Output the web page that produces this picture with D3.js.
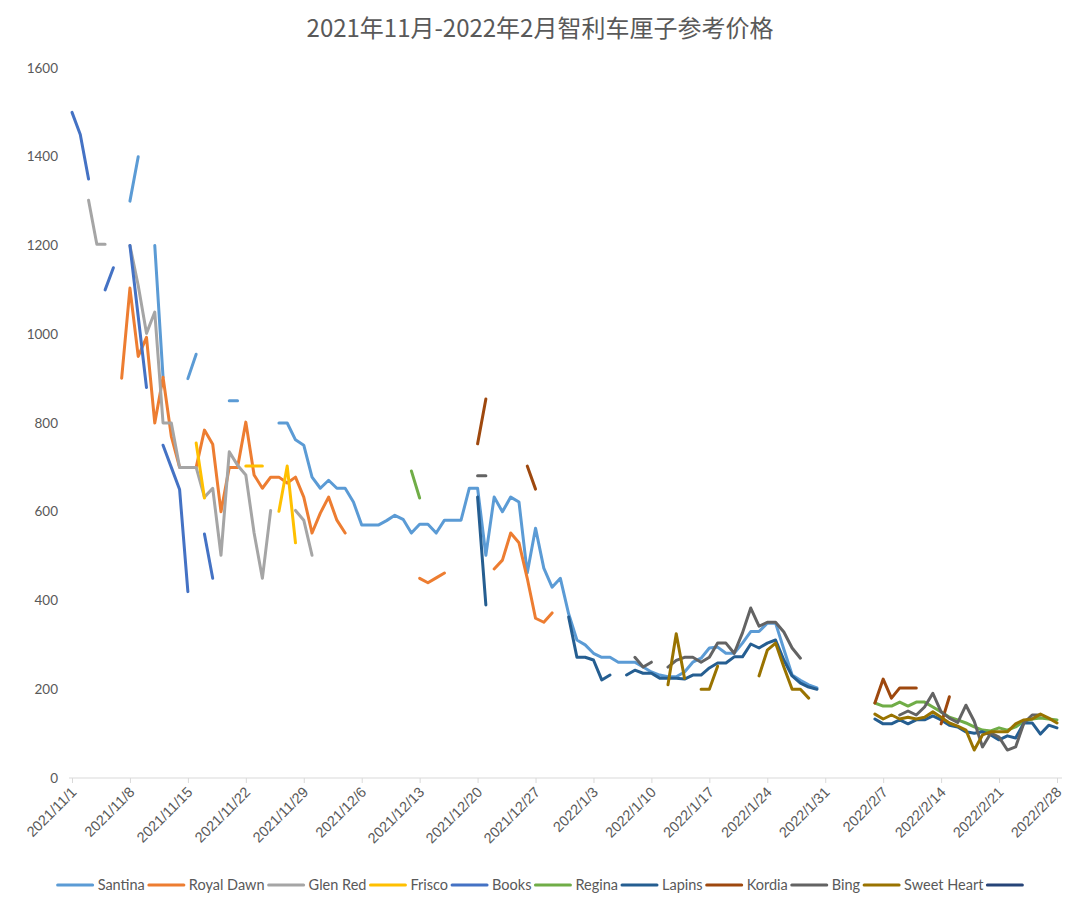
<!DOCTYPE html>
<html>
<head>
<meta charset="utf-8">
<script src="https://cdn.jsdelivr.net/npm/d3@7"></script>
<style>
  body { margin: 0; background: #fff; }
  svg { font-family: Lato, "Noto Sans CJK SC", sans-serif; }
</style>
</head>
<body>
<div id="chart"></div>
<script>
// day offsets are counted from 2021/11/1, each entry: [startDay, [values...]]
const santina = [[7, [1300, 1400]], [10, [1200, 903]], [14, [900, 955]], [19, [850, 850]],
  [25, [800, 800, 762, 750, 678, 653, 671, 653, 653, 622, 570, 570, 570, 580, 592, 583, 552, 572, 572, 552,
    581, 581, 581, 653, 653, 502, 633, 600, 633, 622, 462, 563, 473, 430, 450, 370, 311, 300, 281, 272,
    272, 261, 261, 261, 250, 239, 232, 228, 228, 239, 261, 270, 293, 295, 281, 281, 304, 330, 330, 349,
    349, 290, 232, 220, 210, 203]]];
const royalDawn = [[6, [901, 1104, 950, 993, 800, 903, 770, 700, 700, 700, 784, 752, 600, 700, 700, 802,
    683, 653, 678, 678, 665, 678, 633, 552, 597, 633, 581, 552]],
  [42, [450, 440, 451, 462]], [51, [471, 491, 552, 530, 450, 360, 351, 372]]];
const glenRed = [[2, [1302, 1203, 1203]],
  [7, [1200, 1110, 1002, 1050, 800, 800, 700, 700, 700, 633, 653, 502, 735, 705, 683, 552, 450, 603]],
  [27, [603, 581, 502]]];
const frisco = [[15, [755, 631]], [21, [703, 703, 703]], [25, [601, 703, 530]]];
const books = [[0, [1500, 1450, 1350]], [4, [1100, 1150]], [7, [1200, 1040, 880]],
  [11, [750, 700, 650, 420]], [16, [550, 450]]];
const regina = [[41, [692, 631]],
  [97, [169, 162, 162, 171, 162, 171, 171, 160, 149, 137, 131, 124, 115, 108, 106, 113, 108, 115, 128,
    133, 135, 133, 131]]];
const lapins = [[49, [633, 390]], [60, [363, 272, 272, 266, 221, 232]],
  [67, [232, 243, 236, 236, 225, 225, 225, 223, 232, 232, 248, 259, 259, 273, 273, 302, 293, 304, 311,
    266, 230, 214, 205, 200]],
  [97, [133, 122, 122, 131, 122, 131, 131, 140, 131, 119, 115, 104, 101, 104, 97, 86, 95, 90, 124, 124,
    99, 119, 113]]];
const kordia = [[49, [753, 854]], [55, [703, 651]], [97, [169, 223, 180, 203, 203, 203]], [105, [122, 183]]];
const bing = [[49, [681, 681]], [68, [272, 250, 261]],
  [72, [250, 265, 272, 272, 261, 272, 304, 304, 281, 327, 383, 342, 351, 351, 329, 293, 270]],
  [100, [142, 151, 142, 160, 191, 149, 135, 125, 164, 128, 70, 101, 92, 63, 70, 124, 142, 142]]];
const sweetHeart = [[72, [210, 325, 225]], [76, [200, 200, 252]], [83, [230, 288, 304, 250, 200, 200, 180]],
  [97, [144, 133, 142, 133, 137, 133, 137, 149, 137, 124, 117, 108, 63, 97, 104, 104, 104, 122, 131, 133,
    144, 135, 124]]];
const unnamed = [];

const seriesNames = ["Santina", "Royal Dawn", "Glen Red", "Frisco", "Books", "Regina", "Lapins", "Kordia", "Bing", "Sweet Heart", ""];
const seriesData = [santina, royalDawn, glenRed, frisco, books, regina, lapins, kordia, bing, sweetHeart, unnamed];
const colors = ["#5B9BD5", "#ED7D31", "#A5A5A5", "#FFC000", "#4472C4", "#70AD47", "#255E91", "#9E480E", "#636363", "#997300", "#264478"];
const yTicks = [0, 200, 400, 600, 800, 1000, 1200, 1400, 1600];

const width = 1080, height = 911;
const start = new Date(2021, 10, 1), end = new Date(2022, 1, 28);

const svg = d3.select("#chart").append("svg")
    .attr("width", width)
    .attr("height", height);

const x = d3.scaleTime().domain([start, end]).range([72, 1057]);
const y = d3.scaleLinear().domain([0, 1600]).range([778, 68]);

svg.append("text")
    .attr("x", 540)
    .attr("y", 37)
    .attr("text-anchor", "middle")
    .attr("fill", "#595959")
    .style("font-family", "'Noto Sans CJK SC', sans-serif")
    .style("font-size", "24px")
    .text("2021年11月-2022年2月智利车厘子参考价格");

// y labels, no axis line
svg.append("g")
    .selectAll("text")
    .data(yTicks)
    .enter()
    .append("text")
    .attr("x", 58)
    .attr("y", d => y(d))
    .attr("dy", "0.35em")
    .attr("text-anchor", "end")
    .attr("fill", "#595959")
    .style("font-size", "13.5px")
    .text(d => d);

// x axis
const weekTicks = d3.range(0, 120, 7).map(d => d3.timeDay.offset(start, d));
const xAxis = svg.append("g")
    .attr("transform", `translate(0,${y(0)})`)
    .call(d3.axisBottom(x).tickValues(weekTicks).tickSize(5).tickFormat(d3.timeFormat("%Y/%-m/%-d")));
xAxis.select(".domain").remove();
xAxis.selectAll(".tick line").attr("stroke", "#D9D9D9");
xAxis.append("line")
    .attr("x1", 69).attr("x2", 1062)
    .attr("stroke", "#D9D9D9");
xAxis.selectAll(".tick text")
    .attr("fill", "#595959")
    .style("font-size", "14.5px")
    .attr("text-anchor", "end")
    .attr("y", 0)
    .attr("dy", 0)
    .attr("transform", "translate(5,15) rotate(-45)");

// lines
const line = d3.line()
    .defined(d => d.v != null)
    .x(d => x(d.date))
    .y(d => y(d.v));

const plot = svg.append("g");
seriesData.forEach((segs, i) => {
    segs.forEach(([s, vals]) => {
        const pts = vals.map((v, k) => ({ date: d3.timeDay.offset(start, s + k), v: v }));
        plot.append("path")
            .datum(pts)
            .attr("fill", "none")
            .attr("stroke", colors[i])
            .attr("stroke-width", 3)
            .attr("stroke-linejoin", "round")
            .attr("stroke-linecap", "round")
            .attr("d", line);
    });
});

// legend
const legend = svg.append("g").attr("transform", "translate(0,885)");
let lx = 0;
const items = [];
seriesNames.forEach((name, i) => {
    const g = legend.append("g");
    g.append("line")
        .attr("x1", 0).attr("x2", 35)
        .attr("stroke", colors[i])
        .attr("stroke-width", 3)
        .attr("stroke-linecap", "round");
    const t = g.append("text")
        .attr("x", 40)
        .attr("dy", "0.35em")
        .attr("fill", "#595959")
        .style("font-size", "14.5px")
        .text(name);
    const w = 40 + (name ? t.node().getComputedTextLength() + 4 : -5);
    items.push({ g, lx });
    lx += w;
});
const offset = (width - lx) / 2;
items.forEach(it => it.g.attr("transform", `translate(${offset + it.lx},0)`));
</script>
</body>
</html>
